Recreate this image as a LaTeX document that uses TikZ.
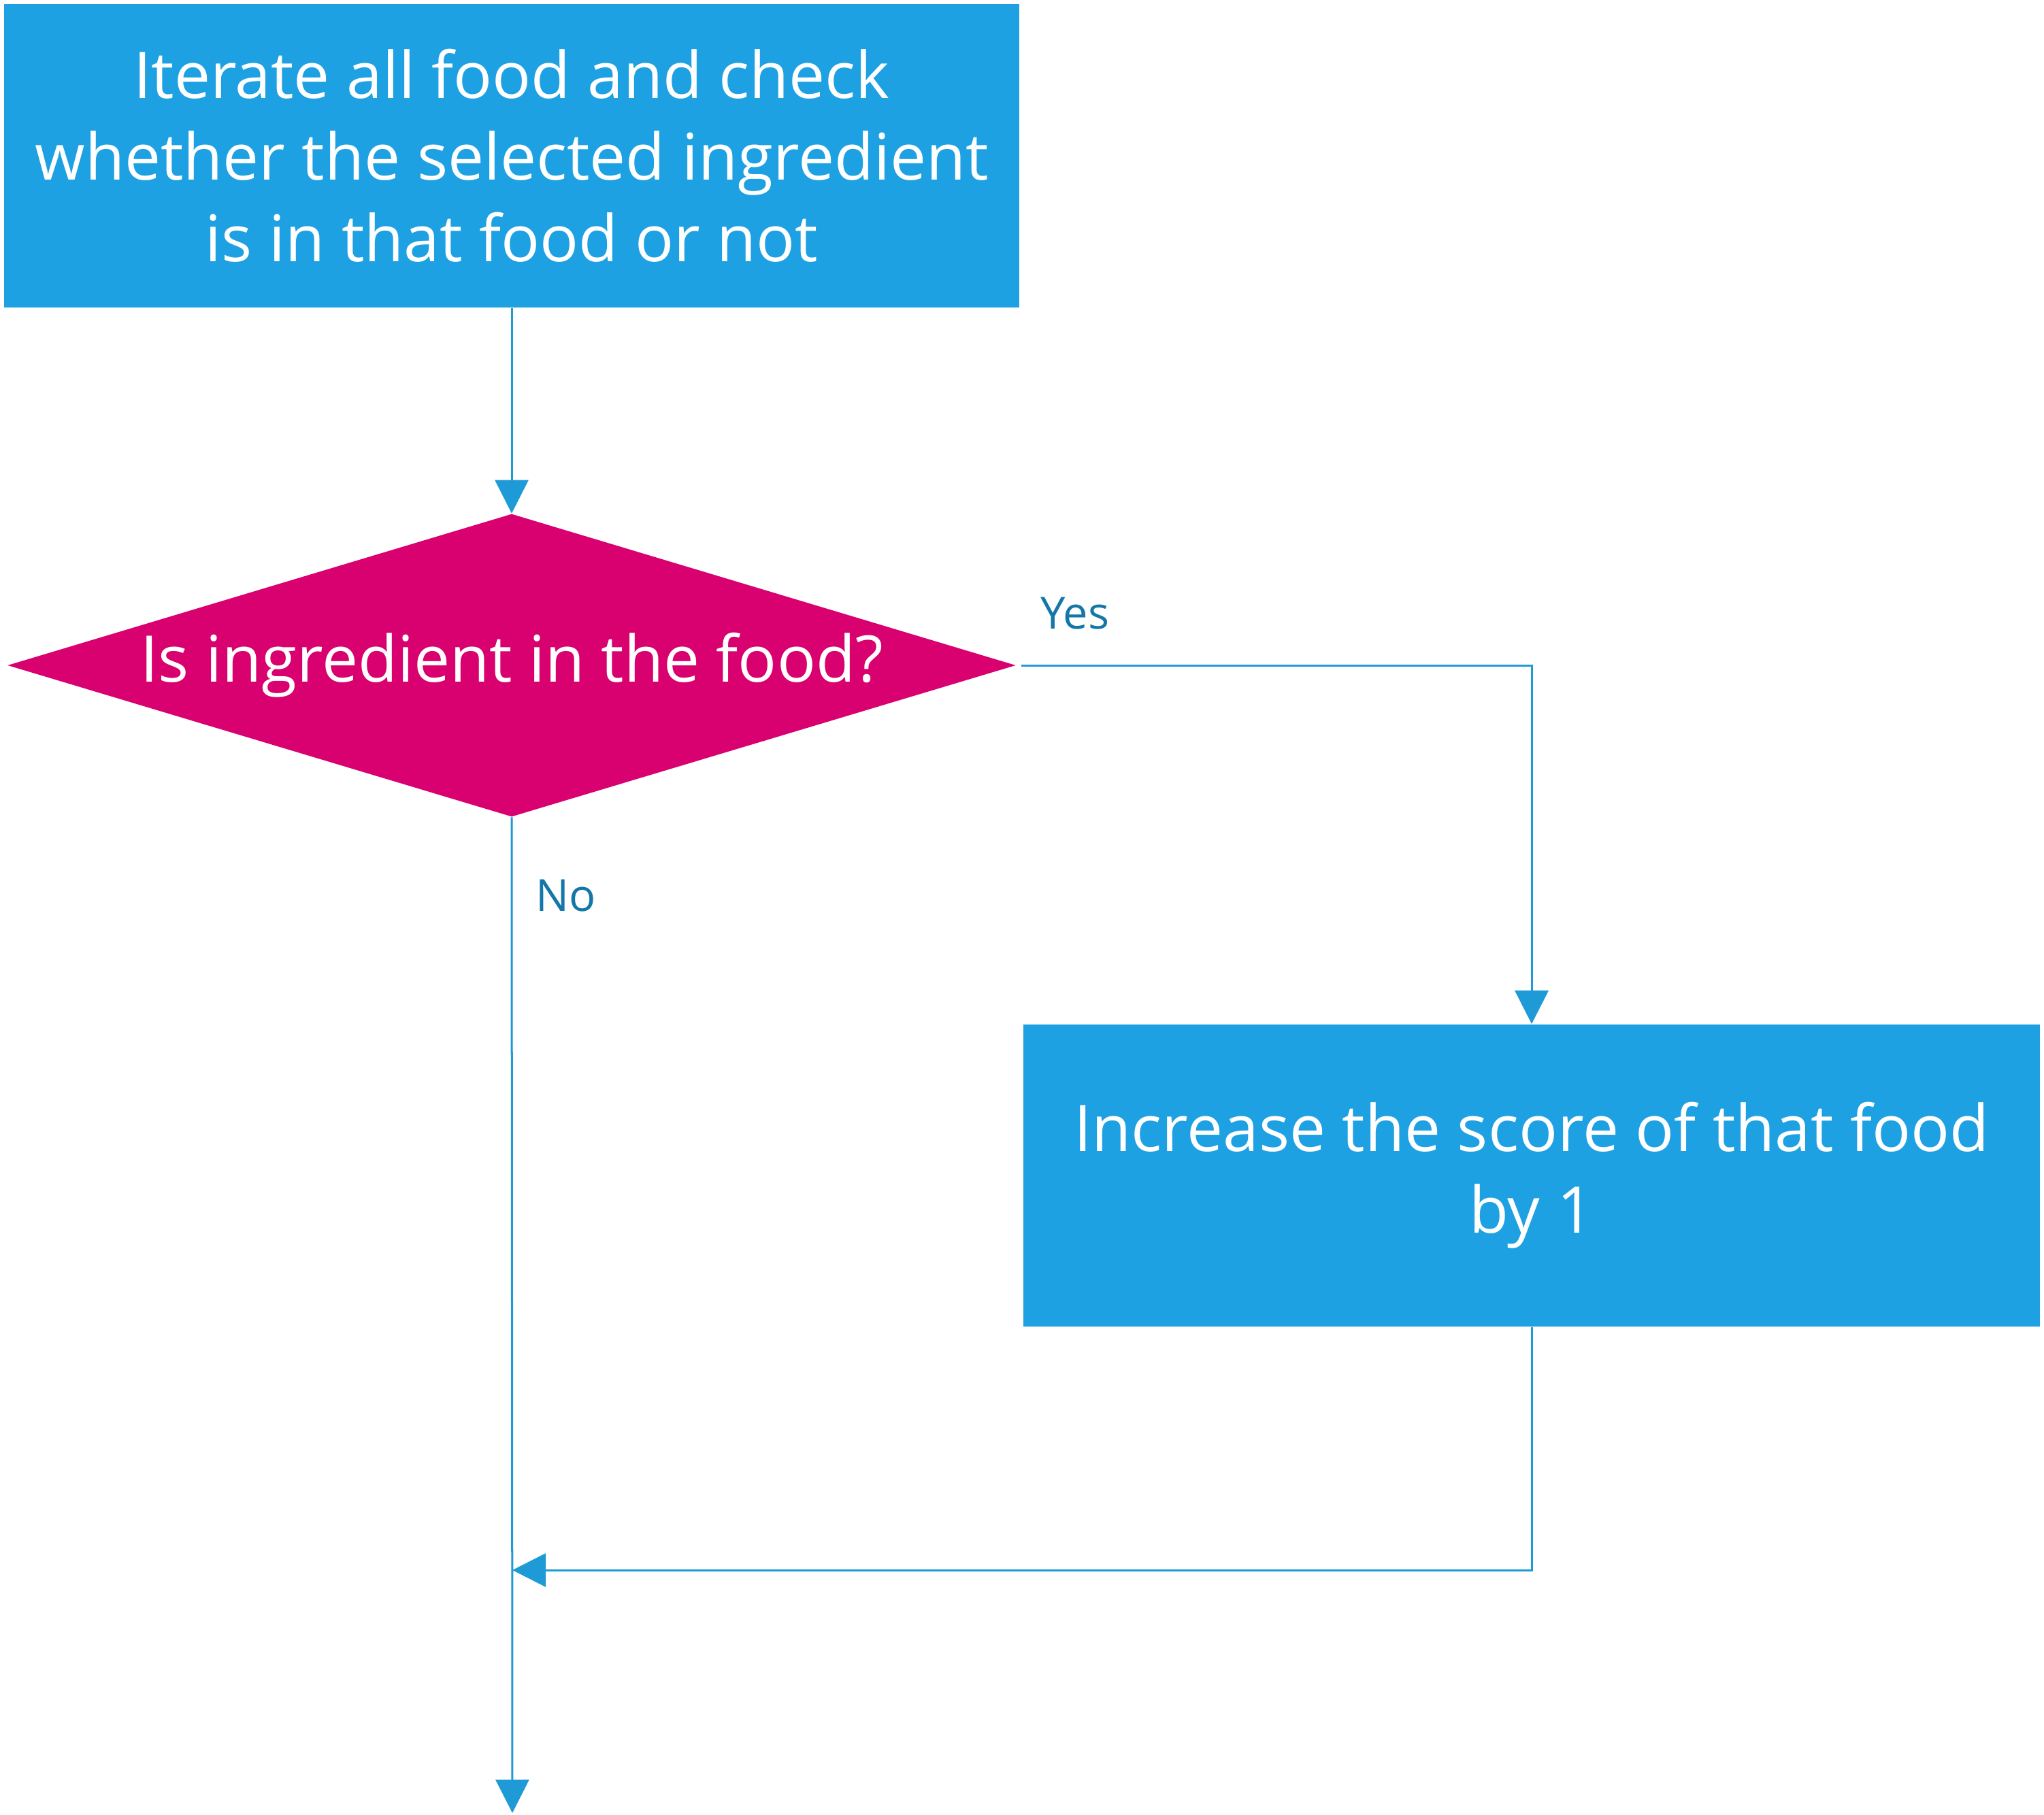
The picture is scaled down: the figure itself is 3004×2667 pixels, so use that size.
\documentclass[tikz,border=0pt]{standalone}
\usepackage{fontspec}
\setmainfont{Open Sans}
\usetikzlibrary{shapes.geometric,arrows.meta}
\definecolor{boxblue}{HTML}{1DA1E2}
\definecolor{linkblue}{HTML}{1E9AD6}
\definecolor{magent}{HTML}{D9006F}
\definecolor{lblblue}{HTML}{1477A8}
\tikzset{
  procbox/.style={fill=boxblue, draw=none, text=white, align=center, inner sep=0pt,
    font=\fontsize{26.9}{34.1}\selectfont},
  decbox/.style={diamond, aspect=3.33, fill=magent, draw=none, text=white, inner sep=0pt,
    font=\fontsize{26.9}{34.1}\selectfont},
  conn/.style={draw=linkblue, line width=0.03cm, -{Triangle[length=0.49cm,width=0.49cm]}},
  lbl/.style={text=lblblue, font=\fontsize{18.5}{22}\selectfont, inner sep=0pt, anchor=base west}
}
\begin{document}
\begin{tikzpicture}[x=0.01cm,y=-0.01cm]
\useasboundingbox (0,0) rectangle (3004,2667);
\node[procbox, minimum width=14.92cm, minimum height=4.46cm] (start) at (752,229)
  {Iterate all food and check\\whether the selected ingredient\\is in that food or not};
\node[decbox, minimum width=14.81cm, minimum height=4.45cm] (dec) at (752,978)
  {Is ingredient in the food?};
\node[procbox, minimum width=14.94cm, minimum height=4.44cm] (inc) at (2251,1728)
  {Increase the score of that food\\by 1};
\coordinate (merge) at (753,2308);
\coordinate (out) at (753,2665);
\coordinate (yesstart) at (1501,978);
\draw[conn] (start.south) -- (dec.north);
\draw[conn] (yesstart) -| (inc.north);
\draw[conn] (inc.south) |- (merge);
\draw[conn] (dec.south) -- (out);
\node[lbl] (yes) at (1529,924) {Yes};
\node[lbl] (no) at (787,1339) {No};
\end{tikzpicture}
\end{document}
